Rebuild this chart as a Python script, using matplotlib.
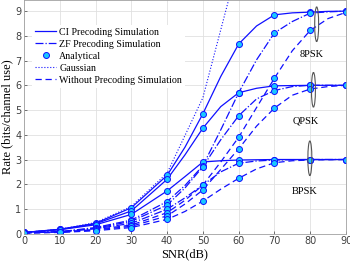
import numpy as np
import matplotlib
matplotlib.use('Agg')
import matplotlib.pyplot as plt
from matplotlib.patches import Ellipse

# simulation curves (read every 10 dB, plus 5 dB points in the bends)
snr_sim = [0, 10, 20, 30, 40, 45, 50, 55, 60, 65, 70, 75, 80, 85, 90]

ci_8psk = [0.05, 0.18, 0.42, 1.05, 2.36, 3.50, 4.85, 6.36, 7.67, 8.40, 8.85, 8.93, 8.96, 8.99, 9.0]
ci_qpsk = [0.05, 0.17, 0.40, 0.92, 2.20, 3.19, 4.27, 5.14, 5.70, 5.88, 5.98, 5.99, 6.0, 6.0, 6.0]
ci_bpsk = [0.05, 0.16, 0.36, 0.78, 1.73, 2.31, 2.90, 2.95, 2.98, 2.99, 3.0, 3.0, 3.0, 3.0, 3.0]

zf_8psk = [0.04, 0.08, 0.25, 0.55, 1.30, 1.95, 2.75, 4.20, 5.70, 7.03, 8.12, 8.58, 8.92, 8.97, 9.0]
zf_qpsk = [0.04, 0.08, 0.22, 0.50, 1.16, 1.85, 2.71, 3.80, 4.77, 5.45, 5.79, 5.95, 6.0, 6.0, 6.0]
zf_bpsk = [0.04, 0.07, 0.20, 0.42, 0.99, 1.45, 1.97, 2.50, 2.85, 2.94, 2.98, 2.99, 3.0, 3.0, 3.0]

wo_8psk = [0.03, 0.07, 0.17, 0.35, 0.85, 1.35, 1.97, 2.90, 3.90, 5.10, 6.29, 7.40, 8.22, 8.70, 8.95]
wo_qpsk = [0.03, 0.06, 0.15, 0.30, 0.72, 1.20, 1.77, 2.60, 3.43, 4.35, 5.08, 5.60, 5.85, 5.95, 6.0]
wo_bpsk = [0.03, 0.05, 0.12, 0.25, 0.58, 0.90, 1.32, 1.80, 2.24, 2.62, 2.87, 2.95, 2.98, 2.99, 3.0]

# analytical markers sit every 10 dB
snr_ana = [0, 10, 20, 30, 40, 50, 60, 70, 80, 90]

snr_gauss = [0, 10, 20, 30, 40, 50, 60]
gauss = [0.05, 0.18, 0.45, 1.10, 2.45, 5.50, 11.0]

mod_labels = ['8PSK', 'QPSK', 'BPSK']
label_pos = [(80.4, 7.23), (78.8, 4.56), (78.3, 1.70)]
ellipse_pos = [(81.8, 8.47), (80.9, 5.82), (79.9, 3.05)]

blue = '#1010ff'
face = '#19c8ff'

fig = plt.figure(figsize=(3.5, 2.63), dpi=100)
ax = fig.add_axes([24/350, 29.3/263, 322/350, 233.7/263])

ci = [ci_8psk, ci_qpsk, ci_bpsk]
zf = [zf_8psk, zf_qpsk, zf_bpsk]
wo = [wo_8psk, wo_qpsk, wo_bpsk]

for y in ci:
    ax.plot(snr_sim, y, '-', color=blue, lw=0.9)
for y in zf:
    ax.plot(snr_sim, y, '-.', color=blue, lw=0.9)
for y in wo:
    ax.plot(snr_sim, y, '--', color=blue, lw=0.9, dashes=(5, 3))
ax.plot(snr_gauss, gauss, ':', color=blue, lw=0.8)
for y in ci + zf + wo:
    ya = [v for s, v in zip(snr_sim, y) if s in snr_ana]
    ax.plot(snr_ana, ya, 'o', ms=4.3, mfc=face, mec=blue, mew=0.7, ls='none')

for (ex, ey) in ellipse_pos:
    ax.add_patch(Ellipse((ex, ey), 1.1, 1.4, fill=False, ec='#555555', lw=0.8, zorder=5))
for lab, (tx, ty) in zip(mod_labels, label_pos):
    ax.text(tx, ty, lab, ha='center', va='center', fontsize=7.5, family='Liberation Serif')

# legend proxies
h1, = ax.plot([], [], '-', color=blue, lw=0.9)
h2, = ax.plot([], [], '-.', color=blue, lw=0.9)
h3, = ax.plot([], [], 'o', ms=4.3, mfc=face, mec=blue, mew=0.7, ls='none')
h4, = ax.plot([], [], ':', color=blue, lw=0.8)
h5, = ax.plot([], [], '--', color=blue, lw=0.9, dashes=(5, 3))
leg = ax.legend([h1, h2, h3, h4, h5],
                ['CI Precoding Simulation', 'ZF Precoding Simulation', 'Analytical',
                 'Gaussian', 'Without Precoding Simulation'],
                loc='upper left', bbox_to_anchor=(0.01, 0.915), frameon=True,
                prop={'family': 'Liberation Serif', 'size': 7.2},
                handlelength=2.1, handletextpad=0.3, labelspacing=0.3,
                borderpad=0.3, fancybox=False, framealpha=1)
leg.get_frame().set_edgecolor('white')
leg.get_frame().set_linewidth(0)

ax.set_xlim(0, 90)
ax.set_ylim(0, 9.45)
ax.set_xticks(range(0, 91, 10))
ax.set_yticks(range(0, 10))
ax.grid(True, color='#e0e0e0', lw=0.6)
ax.set_axisbelow(True)
ax.tick_params(labelsize=7, colors='#404040', length=2, width=0.5, direction='in', pad=2)
for s in ax.spines.values():
    s.set_color('#a0a0a0')
    s.set_linewidth(0.6)

ax.set_xlabel('SNR(dB)', family='Liberation Serif', fontsize=9, labelpad=1)
ax.set_ylabel('Rate (bits/channel use)', family='Liberation Serif', fontsize=9, labelpad=1)

fig.savefig('out.png', dpi=100)
